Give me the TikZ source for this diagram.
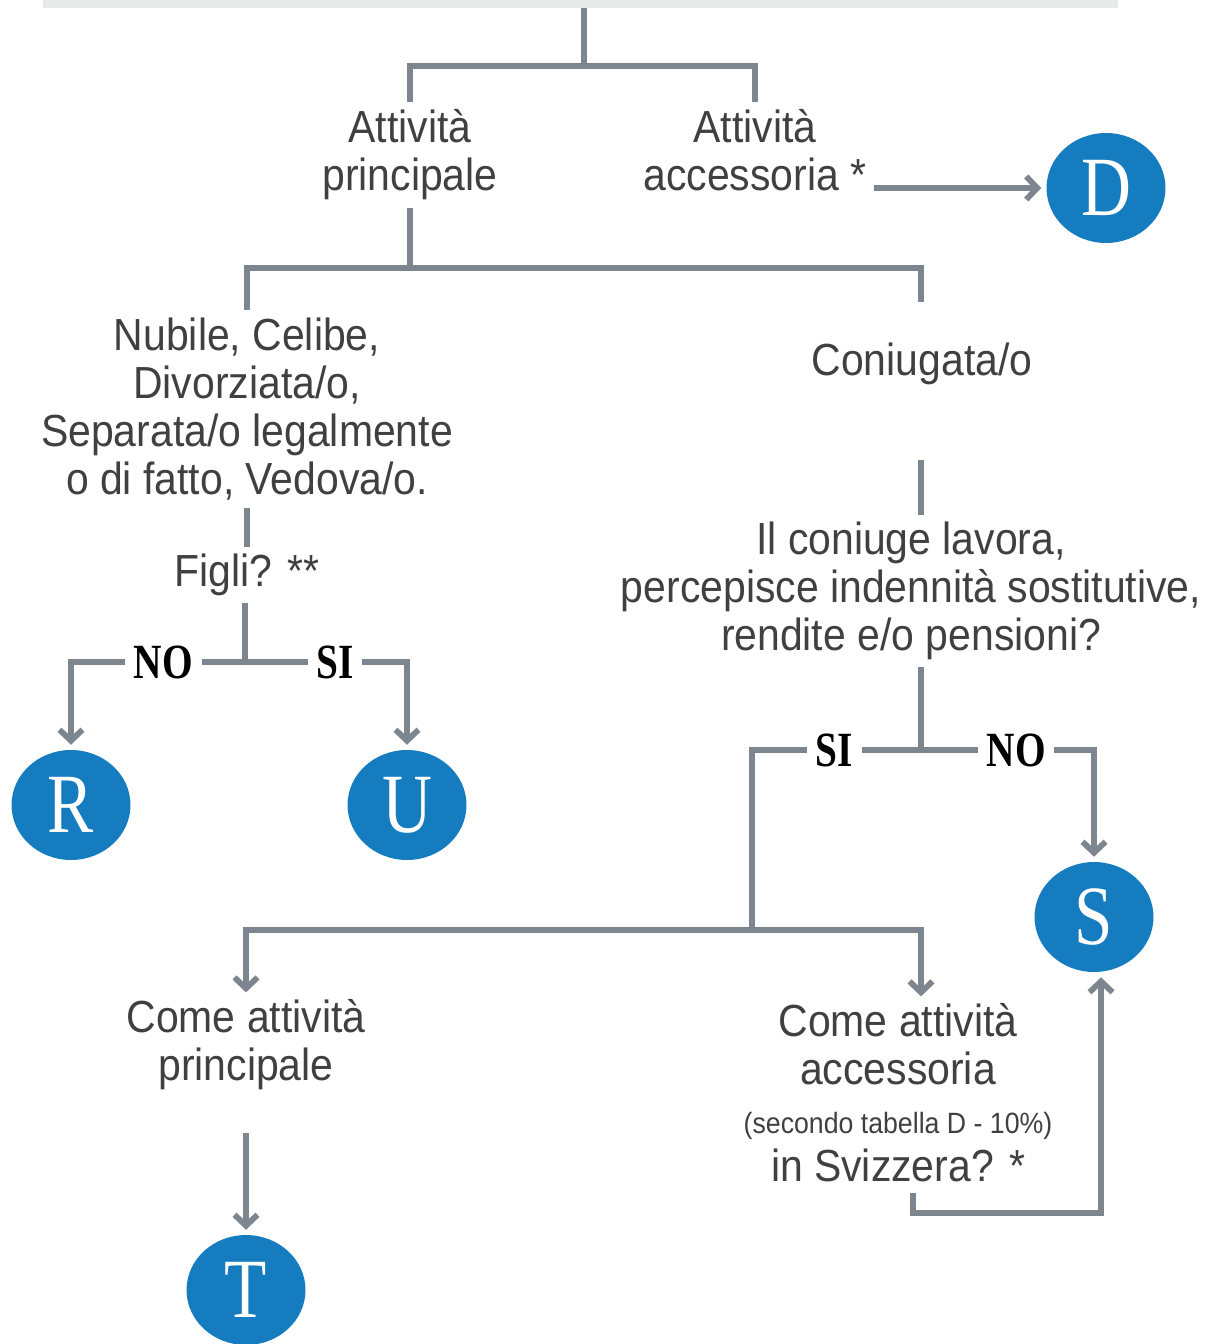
\documentclass[tikz,border=0pt]{standalone}
\usepackage{fontspec}
\setmainfont{Liberation Sans}[FakeStretch=0.91]
\newfontfamily\letterfont{Liberation Serif}[FakeStretch=0.82]
\newfontfamily\answerfont{Liberation Serif}[FakeStretch=0.8]
\usetikzlibrary{arrows.meta,shapes.geometric}

\definecolor{linegray}{RGB}{125,133,143}
\definecolor{textgray}{RGB}{64,64,64}
\definecolor{resultblue}{RGB}{21,124,191}
\definecolor{bargray}{RGB}{232,233,233}

\tikzset{
  conn/.style={draw=linegray, line width=3.3pt},
  arr/.style={conn, -{Straight Barb[length=2.2mm,width=4.6mm]}},
  txt/.style={text=textgray, align=center, inner sep=4pt,
    font=\fontsize{25.6}{27.3}\selectfont},
  answer/.style={fill=white, text=black, inner sep=5pt,
    font=\answerfont\bfseries\fontsize{28}{28}\selectfont},
  result/.style={ellipse, fill=resultblue, text=white, minimum width=2.38cm,
    minimum height=2.2cm, inner sep=0pt, outer sep=3pt,
    font=\letterfont\fontsize{48}{48}\selectfont},
}

\begin{document}
\begin{tikzpicture}[x=0.02cm, y=-0.02cm]
    \useasboundingbox (0,0) rectangle (1210,1344);

    % Header bar
    \fill[bargray] (43,0) rectangle (1118,8);
    \coordinate (bartop) at (584,8);
    \coordinate (j1) at (584,66);

    % Kind of activity
    \node[txt] (ap) at (410,155) {Attività\\principale};
    \node[txt] (aa) at (755,150) {Attività\\accessoria *};
    \node[result] (D) at (1106,188) {D};

    % Civil status
    \coordinate (j2) at (410,268);
    \node[txt] (ns) at (247,409) {Nubile, Celibe,\\Divorziata/o,\\Separata/o legalmente\\o di fatto, Vedova/o.};
    \coordinate (cgtop) at (921,302);
    \node[txt] (cg) at (922,364) {Coniugata/o};
    \coordinate (cgfoot) at (921,460);

    % Children
    \node[txt] (fg) at (247,575) {Figli? **};
    \coordinate (j3) at (245,662);
    \node[result] (R) at (71,805) {R};
    \node[result] (U) at (407,805) {U};

    % Spouse
    \node[txt] (cq) at (911,591) {Il coniuge lavora,\\percepisce indennità sostitutive,\\rendite e/o pensioni?};
    \coordinate (j4) at (921,750);
    \coordinate (j5) at (752,930);
    \node[result] (S) at (1094,917) {S};

    % Spouse activity
    \node[txt] (cp) at (246,1045) {Come attività\\principale};
    \coordinate (cpfoot) at (246,1133);
    \node[result] (T) at (246,1290) {T};
    \node[txt] (ca) at (898,1093) {Come attività\\accessoria\\[0.6pt]{\fontsize{16.7}{20}\selectfont (secondo tabella D - 10\%)}\\[0pt]in Svizzera? *};
    \coordinate (cafoot) at (913,1193);

    % Connectors
    \draw[conn] (bartop) -- (j1);
    \draw[conn] (j1) -| (ap.north);
    \draw[conn] (j1) -| (aa.north);
    \draw[arr] (aa.east |- D) -- (D);
    \draw[conn] (ap.south) -- (j2);
    \draw[conn] (j2) -| (ns.north);
    \draw[conn] (j2) -| (cgtop);
    \draw[conn] (ns.south) -- (fg.north);
    \draw[conn] (fg.south -| j3) -- (j3);
    \draw[arr] (j3) -| node[answer,pos=0.235]{NO} (R);
    \draw[arr] (j3) -| node[answer,pos=0.278]{SI} (U);
    \draw[conn] (cgfoot) -- (cgfoot |- cq.north);
    \draw[conn] (cq.south -| j4) -- (j4);
    \draw[conn] (j4) -| node[answer,pos=0.257]{SI} (j5);
    \draw[arr] (j4) -| node[answer,pos=0.275]{NO} (S);
    \draw[arr] (j5) -| (cp.north);
    \draw[arr] (j5) -| (ca.north -| j4);
    \draw[arr] (cpfoot) -- (T);
    \draw[arr] (cafoot) -- ++(0,20) -| ([xshift=0.14cm]S.south);

\end{tikzpicture}
\end{document}
